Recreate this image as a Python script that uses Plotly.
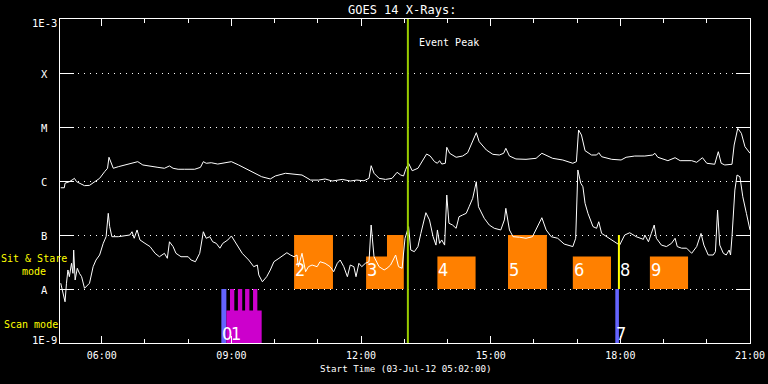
import numpy as np
import pandas as pd
import plotly.graph_objects as go

DAY = "2012-07-03 "

# ---- GOES long channel (1-8 A), upper curve ----
LONG_T = ["05:03", "05:08", "05:09", "05:15", "05:20", "05:22", "05:25", "05:29", "05:36", "05:43",
          "05:50", "05:57", "06:04", "06:08", "06:10", "06:12", "06:16", "06:23", "06:36", "06:43",
          "06:50", "06:57", "07:09", "07:18", "07:27", "07:34", "07:39", "07:46", "07:55", "08:09",
          "08:17", "08:21", "08:25", "08:32", "08:41", "08:51", "09:00", "09:10", "09:22", "09:31",
          "09:42", "09:54", "10:01", "10:15", "10:26", "10:38", "10:50", "11:01", "11:10", "11:20",
          "11:34", "11:45", "11:54", "12:04", "12:11", "12:14", "12:18", "12:25", "12:34", "12:43",
          "12:50", "12:55", "12:59", "13:02", "13:06", "13:11", "13:19", "13:26", "13:31", "13:36",
          "13:42", "13:46", "13:49", "13:52", "13:57", "13:59", "14:03", "14:12", "14:21", "14:28",
          "14:35", "14:40", "14:44", "14:54", "15:03", "15:12", "15:18", "15:21", "15:26", "15:35",
          "15:49", "16:03", "16:11", "16:17", "16:26", "16:40", "16:54", "16:59", "17:02", "17:06",
          "17:11", "17:20", "17:27", "17:30", "17:34", "17:48", "18:01", "18:08", "18:20", "18:34",
          "18:45", "18:48", "18:52", "19:06", "19:16", "19:23", "19:39", "19:46", "19:54", "20:00",
          "20:11", "20:16", "20:20", "20:25", "20:35", "20:38", "20:43", "20:48", "20:53", "21:00"]
LONG_F = [7.5e-7, 7.5e-7, 9.1e-7, 9.7e-7, 1.07e-6, 1.12e-6, 9.7e-7, 9.1e-7, 8.2e-7, 8.3e-7,
          9.7e-7, 1.12e-6, 1.49e-6, 1.72e-6, 2.75e-6, 2.28e-6, 1.72e-6, 1.84e-6, 2.04e-6, 2.13e-6,
          2.28e-6, 1.98e-6, 1.84e-6, 1.79e-6, 1.72e-6, 1.9e-6, 1.72e-6, 1.65e-6, 1.65e-6, 1.65e-6,
          1.79e-6, 2.28e-6, 2.13e-6, 2.18e-6, 2.06e-6, 2.18e-6, 2.28e-6, 1.98e-6, 1.65e-6, 1.39e-6,
          1.2e-6, 1.09e-6, 1.24e-6, 1.39e-6, 1.35e-6, 1.29e-6, 1.04e-6, 1.04e-6, 1.09e-6, 1.0e-6,
          1.07e-6, 1.0e-6, 1.04e-6, 1.01e-6, 1.12e-6, 1.92e-6, 1.39e-6, 1.12e-6, 1.07e-6, 1.12e-6,
          1.45e-6, 1.29e-6, 1.24e-6, 1.65e-6, 2.13e-6, 1.55e-6, 1.72e-6, 2.45e-6, 3.16e-6, 2.9e-6,
          2.28e-6, 2.13e-6, 2.38e-6, 2.06e-6, 2.13e-6, 4.21e-6, 3.26e-6, 2.75e-6, 2.9e-6, 3.34e-6,
          5.35e-6, 7.84e-6, 5.35e-6, 3.75e-6, 3.12e-6, 3.03e-6, 3.26e-6, 4.03e-6, 2.9e-6, 2.56e-6,
          2.52e-6, 2.63e-6, 3.26e-6, 3.03e-6, 2.63e-6, 2.45e-6, 2.13e-6, 2.28e-6, 8.8e-6, 7.1e-6,
          3.64e-6, 3.03e-6, 3.03e-6, 3.34e-6, 2.82e-6, 2.52e-6, 2.45e-6, 2.75e-6, 2.9e-6, 2.9e-6,
          3.03e-6, 3.26e-6, 2.75e-6, 2.38e-6, 2.7e-6, 2.38e-6, 2.38e-6, 2.22e-6, 2.7e-6, 2.13e-6,
          2.04e-6, 3.49e-6, 2.13e-6, 1.98e-6, 2.04e-6, 4.64e-6, 9.46e-6, 7.64e-6, 4.32e-6, 3.26e-6]

# ---- GOES short channel (0.5-4 A), lower curve ----
SHORT_T = ["05:03", "05:05", "05:08", "05:09", "05:11", "05:13", "05:15", "05:18", "05:20", "05:21",
           "05:23", "05:26", "05:29", "05:32", "05:36", "05:43", "05:48", "05:52", "05:57", "06:02",
           "06:06", "06:09", "06:11", "06:14", "06:23", "06:32", "06:39", "06:42", "06:45", "06:49",
           "06:53", "07:00", "07:07", "07:14", "07:20", "07:27", "07:31", "07:34", "07:39", "07:43",
           "07:50", "08:00", "08:04", "08:10", "08:16", "08:21", "08:25", "08:30", "08:34", "08:39",
           "08:44", "08:48", "08:55", "09:00", "09:08", "09:15", "09:24", "09:31", "09:36", "09:38",
           "09:43", "09:49", "09:54", "09:59", "10:06", "10:13", "10:17", "10:22", "10:27", "10:31",
           "10:33", "10:38", "10:43", "10:47", "10:52", "10:59", "11:03", "11:10", "11:17", "11:22",
           "11:27", "11:31", "11:36", "11:41", "11:45", "11:50", "11:53", "11:57", "12:01", "12:06",
           "12:11", "12:14", "12:18", "12:25", "12:32", "12:36", "12:41", "12:48", "12:52", "12:57",
           "13:01", "13:06", "13:09", "13:14", "13:19", "13:23", "13:30", "13:35", "13:40", "13:44",
           "13:46", "13:49", "13:52", "13:56", "13:59", "14:02", "14:07", "14:12", "14:16", "14:21",
           "14:26", "14:30", "14:35", "14:40", "14:43", "14:51", "14:58", "15:05", "15:14", "15:19",
           "15:21", "15:26", "15:31", "15:40", "15:49", "15:58", "16:05", "16:11", "16:17", "16:24",
           "16:33", "16:42", "16:54", "16:58", "17:01", "17:05", "17:08", "17:11", "17:15", "17:22",
           "17:27", "17:30", "17:34", "17:41", "17:48", "17:55", "17:59", "18:06", "18:13", "18:22",
           "18:32", "18:34", "18:39", "18:43", "18:47", "18:50", "18:57", "19:04", "19:11", "19:16",
           "19:19", "19:25", "19:32", "19:39", "19:46", "19:52", "19:56", "20:02", "20:09", "20:12",
           "20:15", "20:18", "20:23", "20:27", "20:31", "20:33", "20:35", "20:39", "20:42", "20:46",
           "20:50", "20:55", "21:00"]
SHORT_F = [1.28e-8, 9.6e-9, 6.3e-9, 5.8e-9, 1.28e-8, 2.25e-8, 1.69e-8, 2.99e-8, 1.95e-8, 5.27e-8,
           1.47e-8, 2.42e-8, 1.95e-8, 1.69e-8, 1.03e-8, 1.28e-8, 2.59e-8, 3.44e-8, 4.26e-8, 7.0e-8,
           9.3e-8, 2.52e-7, 1.43e-7, 9.3e-8, 9.3e-8, 9.6e-8, 1.0e-7, 1.15e-7, 8.7e-8, 1.24e-7,
           8.1e-8, 7.0e-8, 6.1e-8, 4.58e-8, 3.96e-8, 4.58e-8, 3.7e-8, 7.5e-8, 6.1e-8, 4.58e-8,
           3.96e-8, 3.96e-8, 3.44e-8, 3.2e-8, 4.58e-8, 1.15e-7, 8.7e-8, 9.3e-8, 7.5e-8, 7.0e-8,
           5.7e-8, 7.0e-8, 8.1e-8, 9.6e-8, 6.5e-8, 4.58e-8, 3.44e-8, 2.59e-8, 2.78e-8, 1.82e-8,
           1.36e-8, 1.69e-8, 2.25e-8, 3.2e-8, 3.7e-8, 4.26e-8, 4.7e-8, 4.26e-8, 3.96e-8, 4.26e-8,
           2.59e-8, 4.58e-8, 2.09e-8, 2.59e-8, 2.78e-8, 2.59e-8, 3.2e-8, 2.99e-8, 2.59e-8, 2.09e-8,
           2.99e-8, 3.44e-8, 2.59e-8, 1.69e-8, 2.78e-8, 2.59e-8, 1.69e-8, 2.99e-8, 2.59e-8, 2.99e-8,
           3.2e-8, 1.53e-7, 3.96e-8, 2.59e-8, 2.25e-8, 2.42e-8, 2.78e-8, 4.26e-8, 2.59e-8, 2.42e-8,
           8.7e-8, 1.43e-7, 5.27e-8, 4.91e-8, 6.1e-8, 1.07e-7, 2.59e-7, 1.9e-7, 9.3e-8, 6.5e-8,
           1.24e-7, 7.0e-8, 8.1e-8, 6.5e-8, 5.5e-7, 1.65e-7, 1.53e-7, 1.33e-7, 2.18e-7, 2.35e-7,
           2.52e-7, 3.34e-7, 4.78e-7, 9.7e-7, 3.34e-7, 2.04e-7, 1.53e-7, 1.33e-7, 1.24e-7, 1.9e-7,
           3.12e-7, 1.24e-7, 9.3e-8, 9.1e-8, 8.7e-8, 9.3e-8, 1.43e-7, 2.09e-7, 1.24e-7, 9.3e-8,
           8.7e-8, 6.8e-8, 6.1e-8, 8.7e-8, 1.6e-6, 9.1e-7, 7.84e-7, 3.87e-7, 2.52e-7, 1.43e-7,
           1.33e-7, 1.76e-7, 1.07e-7, 9.3e-8, 8.3e-8, 7.0e-8, 6.5e-8, 1.0e-7, 1.1e-7, 9.3e-8,
           8.3e-8, 1.0e-7, 7.5e-8, 1.07e-7, 1.53e-7, 8.7e-8, 6.5e-8, 6.1e-8, 7.0e-8, 8.7e-8,
           6.1e-8, 5.7e-8, 5.7e-8, 4.58e-8, 6.1e-8, 1.07e-7, 6.5e-8, 4.26e-8, 4.26e-8, 4.91e-8,
           2.9e-7, 6.5e-8, 4.58e-8, 4.26e-8, 5.27e-8, 4.26e-8, 9.3e-8, 6.8e-7, 1.29e-6, 1.2e-6,
           5.1e-7, 2.52e-7, 1.24e-7]

# ---- Sit & Stare observations ----
SIT_START = ["10:27", "12:07", "12:36", "13:46", "15:24", "16:54", "18:41"]
SIT_END   = ["11:21", "12:59", "12:59", "14:39", "16:18", "17:47", "19:34"]
SIT_LOW   = [1e-8, 1e-8, 1e-8, 1e-8, 1e-8, 1e-8, 1e-8]
SIT_HIGH  = [1e-7, 4e-8, 1e-7, 4e-8, 1e-7, 4e-8, 4e-8]
SIT_LINE_T = "17:58"          # observation 8 (zero length)

# ---- Scan observations ----
SCAN_START = ["08:46", "08:53", "08:58", "09:09", "09:19", "09:30", "17:53"]
SCAN_END   = ["08:53", "09:42", "09:04", "09:15", "09:25", "09:36", "17:58"]
SCAN_LOW   = [1e-9, 1e-9, 1e-9, 1e-9, 1e-9, 1e-9, 1e-9]
SCAN_HIGH  = [1e-8, 4e-9, 1e-8, 1e-8, 1e-8, 1e-8, 1e-8]
SCAN_KIND  = ["blue", "magenta", "magenta", "magenta", "magenta", "magenta", "blue"]

# ---- Observation number labels ----
OBS_TEXT = ["0", "1", "2", "3", "4", "5", "6", "7", "8", "9"]
OBS_TIME = ["08:46", "08:53", "10:27", "12:07", "13:46", "15:24", "16:54", "17:53", "17:58", "18:41"]
OBS_ROW  = ["scan", "scan", "sit", "sit", "sit", "sit", "sit", "scan", "sit", "sit"]

EVENT_PEAK = "13:05"
Y_LABELS = ["1E-9", "A", "B", "C", "M", "X", "1E-3"]
Y_LEVELS = [1e-9, 1e-8, 1e-7, 1e-6, 1e-5, 1e-4, 1e-3]

ORANGE = "#ff8000"
MAGENTA = "#cc00cc"
BLUE = "#6464ff"
GREEN = "#99cc00"
YELLOW = "#ffff00"
MONO = "DejaVu Sans Mono"
NARROW = "Liberation Sans Narrow, DejaVu Sans Condensed, Liberation Sans, sans-serif"


def t(s):
    return pd.Timestamp(DAY + s)


fig = go.Figure()


def rect(x0, x1, y0, y1, color):
    fig.add_trace(go.Scatter(
        x=[t(x0), t(x1), t(x1), t(x0), t(x0)], y=[y0, y0, y1, y1, y0],
        mode="lines", fill="toself", fillcolor=color, line=dict(width=0, color=color),
        hoverinfo="skip", showlegend=False))


for a, b, lo, hi in zip(SIT_START, SIT_END, SIT_LOW, SIT_HIGH):
    rect(a, b, lo, hi, ORANGE)
for a, b, lo, hi, k in zip(SCAN_START, SCAN_END, SCAN_LOW, SCAN_HIGH, SCAN_KIND):
    rect(a, b, lo, hi, BLUE if k == "blue" else MAGENTA)

fig.add_trace(go.Scatter(x=[t(s) for s in LONG_T], y=LONG_F, mode="lines",
                         line=dict(color="white", width=1), showlegend=False))
fig.add_trace(go.Scatter(x=[t(s) for s in SHORT_T], y=SHORT_F, mode="lines",
                         line=dict(color="white", width=1), showlegend=False))

fig.add_trace(go.Scatter(x=[t(SIT_LINE_T)] * 2, y=[1e-8, 1e-7], mode="lines",
                         line=dict(color=YELLOW, width=2), showlegend=False))
fig.add_trace(go.Scatter(x=[t(EVENT_PEAK)] * 2, y=[1e-9, 1e-3], mode="lines",
                         line=dict(color=GREEN, width=2), showlegend=False))

ann = []
for txt, tm, row in zip(OBS_TEXT, OBS_TIME, OBS_ROW):
    yv = np.log10(2.25e-8) if row == "sit" else np.log10(1.5e-9)
    ann.append(dict(x=t(tm), y=yv, xref="x", yref="y", text=txt, showarrow=False,
                    xanchor="left", yanchor="middle", xshift=3 if txt == "1" else -1,
                    font=dict(family=NARROW, size=18, color="white")))

for lab, lev in zip(Y_LABELS, Y_LEVELS):
    shift = -1
    if lev == 1e-3:
        shift = -4
    if lev == 1e-9:
        shift = 3
    ann.append(dict(x=-0.0229, y=np.log10(lev), xref="paper", yref="y", text=lab,
                    showarrow=False, xanchor="center", yanchor="middle", yshift=shift,
                    font=dict(family=MONO, size=10.5, color="white")))

ann.append(dict(x=0.4957, y=1.029, xref="paper", yref="paper", text="GOES 14 X-Rays:",
                showarrow=False, xanchor="center", yanchor="middle",
                font=dict(family=MONO, size=12, color="white")))
ann.append(dict(x=t(EVENT_PEAK), y=-3.44, xref="x", yref="y", text="Event Peak",
                showarrow=False, xanchor="left", yanchor="middle", xshift=9,
                font=dict(family=MONO, size=10, color="white")))
ann.append(dict(x=0.5, y=-0.078, xref="paper", yref="paper",
                text="Start Time (03-Jul-12 05:02:00)", showarrow=False,
                xanchor="center", yanchor="middle",
                font=dict(family=MONO, size=9.2, color="white")))
ann.append(dict(x=-0.0377, y=0.2407, xref="paper", yref="paper",
                text="Sit & Stare<br>mode", showarrow=False, align="center",
                xanchor="center", yanchor="middle",
                font=dict(family=MONO, size=10, color=YELLOW)))
ann.append(dict(x=-0.084, y=0.0586, xref="paper", yref="paper",
                text="Scan mode", showarrow=False, xanchor="left", yanchor="middle",
                font=dict(family=MONO, size=10, color=YELLOW)))

fig.update_layout(
    width=768, height=384,
    margin=dict(l=60, r=18, t=19, b=41, autoexpand=False),
    paper_bgcolor="black", plot_bgcolor="black",
    font=dict(family=MONO, color="white", size=10),
    showlegend=False,
    annotations=ann,
    xaxis=dict(type="date", range=[t("05:02"), t("21:00")], automargin=False,
               showline=True, linecolor="white", linewidth=1, mirror="ticks",
               ticks="inside", ticklen=7, tickcolor="white", tickwidth=1,
               tick0=DAY + "00:00", dtick=3 * 3600000, tickformat="%H:%M",
               tickfont=dict(family=MONO, size=10, color="white"),
               ticklabelstandoff=3,
               showgrid=False, zeroline=False,
               minor=dict(dtick=3600000, ticklen=4, ticks="inside", tickcolor="white",
                          showgrid=False)),
    yaxis=dict(type="log", range=[-9, -3], automargin=False,
               showline=True, linecolor="white", linewidth=1,
               mirror="ticks", ticks="inside", ticklen=14, tickcolor="white", dtick=1,
               showticklabels=False, showgrid=True, gridcolor="white", gridwidth=1,
               griddash="1px,5px", zeroline=False),
)

fig.write_html("out.html", config={"displayModeBar": False},
               post_script="document.body.style.margin='0';document.body.style.background='black';")
